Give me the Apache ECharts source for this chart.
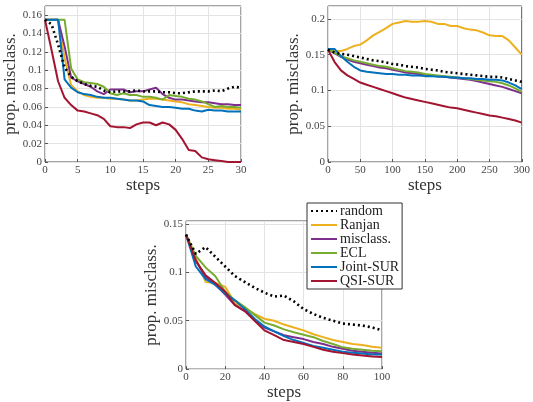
<!DOCTYPE html>
<html><head><meta charset="utf-8">
<script src="https://cdn.jsdelivr.net/npm/echarts@6/dist/echarts.min.js"></script>
<style>html,body{margin:0;padding:0;background:#fff}#c{width:533px;height:402px}</style>
</head><body><div id="c"></div>
<script>
var names = ['random','Ranjan','misclass.','ECL','Joint-SUR','QSI-SUR'];
var colors = ['#000000','#EDB120','#7E2F8E','#77AC30','#0072BD','#A2142F'];

// Panel 1 (steps 0..30)
var steps1 = [0,1,2,3,4,5,6,7,8,9,10,11,12,13,14,15,16,17,18,19,20,21,22,23,24,25,26,27,28,29,30];
var random1 = [0.155,0.150,0.128,0.103,0.093,0.088,0.085,0.083,0.082,0.078,0.076,0.077,0.077,0.077,0.078,0.077,0.077,0.077,0.076,0.076,0.075,0.075,0.076,0.077,0.077,0.077,0.078,0.077,0.080,0.082,0.081];
var ranjan1 = [0.155,0.155,0.155,0.113,0.084,0.077,0.073,0.071,0.070,0.070,0.069,0.069,0.068,0.067,0.067,0.068,0.069,0.069,0.068,0.067,0.066,0.065,0.063,0.062,0.061,0.060,0.059,0.059,0.058,0.058,0.057];
var misclass1 = [0.155,0.155,0.155,0.126,0.092,0.088,0.085,0.082,0.077,0.074,0.079,0.079,0.079,0.076,0.077,0.077,0.079,0.081,0.074,0.070,0.068,0.068,0.067,0.066,0.065,0.065,0.064,0.063,0.063,0.062,0.062];
var ecl1 = [0.155,0.155,0.155,0.155,0.102,0.090,0.087,0.086,0.085,0.082,0.075,0.073,0.075,0.073,0.073,0.071,0.071,0.070,0.068,0.073,0.072,0.071,0.069,0.068,0.066,0.063,0.060,0.061,0.060,0.060,0.059];
var joint1 = [0.155,0.155,0.155,0.090,0.081,0.076,0.074,0.073,0.071,0.070,0.070,0.069,0.068,0.067,0.067,0.066,0.062,0.061,0.060,0.060,0.059,0.058,0.058,0.056,0.055,0.057,0.056,0.056,0.055,0.055,0.055];
var qsi1 = [0.155,0.122,0.088,0.070,0.062,0.056,0.055,0.053,0.051,0.047,0.039,0.038,0.038,0.037,0.041,0.043,0.043,0.040,0.043,0.041,0.035,0.025,0.013,0.012,0.005,0.003,0.002,0.001,0.000,0.000,0.000];

// Panel 2 (steps 0..300)
var steps2 = [0,10,20,30,40,50,60,70,80,90,100,110,120,130,140,150,160,170,180,190,200,210,220,230,240,250,260,270,280,290,300];
var random2 = [0.157,0.153,0.151,0.150,0.148,0.146,0.144,0.142,0.141,0.139,0.137,0.136,0.134,0.133,0.132,0.130,0.129,0.128,0.126,0.125,0.124,0.123,0.122,0.121,0.120,0.119,0.119,0.118,0.116,0.114,0.112];
var ranjan2 = [0.157,0.155,0.155,0.158,0.162,0.164,0.170,0.177,0.182,0.187,0.193,0.195,0.197,0.196,0.196,0.197,0.196,0.193,0.193,0.190,0.190,0.187,0.185,0.184,0.181,0.177,0.176,0.176,0.170,0.160,0.150];
var misclass2 = [0.157,0.152,0.147,0.143,0.140,0.138,0.136,0.134,0.132,0.131,0.129,0.127,0.125,0.124,0.123,0.122,0.121,0.120,0.119,0.118,0.117,0.116,0.115,0.113,0.111,0.109,0.107,0.105,0.102,0.099,0.096];
var ecl2 = [0.157,0.153,0.148,0.145,0.142,0.140,0.138,0.136,0.134,0.133,0.131,0.129,0.127,0.126,0.125,0.123,0.122,0.121,0.120,0.119,0.118,0.117,0.116,0.115,0.114,0.113,0.112,0.110,0.107,0.103,0.098];
var joint2 = [0.158,0.158,0.148,0.140,0.133,0.128,0.126,0.125,0.124,0.123,0.123,0.122,0.122,0.121,0.121,0.120,0.120,0.119,0.119,0.118,0.118,0.117,0.117,0.116,0.116,0.115,0.115,0.114,0.111,0.107,0.102];
var qsi2 = [0.157,0.140,0.128,0.121,0.116,0.111,0.108,0.105,0.102,0.099,0.096,0.093,0.090,0.088,0.086,0.084,0.082,0.080,0.078,0.076,0.075,0.073,0.071,0.069,0.067,0.065,0.064,0.062,0.060,0.058,0.055];

// Panel 3 (steps 0..100)
var steps3 = [0,5,10,15,20,25,30,35,40,45,50,55,60,65,70,75,80,85,90,95,100];
var random3 = [0.139,0.119,0.126,0.116,0.106,0.096,0.090,0.084,0.079,0.075,0.076,0.070,0.062,0.057,0.053,0.050,0.047,0.046,0.045,0.043,0.040];
var ranjan3 = [0.139,0.115,0.090,0.089,0.085,0.068,0.063,0.057,0.052,0.050,0.046,0.043,0.040,0.036,0.033,0.030,0.028,0.026,0.025,0.023,0.022];
var misclass3 = [0.139,0.112,0.095,0.087,0.077,0.066,0.060,0.051,0.043,0.039,0.035,0.033,0.031,0.028,0.026,0.023,0.021,0.019,0.018,0.017,0.016];
var ecl3 = [0.139,0.117,0.105,0.096,0.080,0.071,0.064,0.056,0.048,0.045,0.041,0.038,0.0355,0.033,0.029,0.026,0.0225,0.021,0.020,0.019,0.0185];
var joint3 = [0.139,0.106,0.093,0.087,0.078,0.071,0.062,0.052,0.044,0.039,0.034,0.030,0.027,0.024,0.022,0.020,0.018,0.017,0.016,0.015,0.015];
var qsi3 = [0.139,0.112,0.097,0.089,0.080,0.066,0.060,0.050,0.040,0.035,0.030,0.028,0.026,0.023,0.020,0.018,0.0165,0.015,0.014,0.013,0.0125];

var panels = [
  {steps: steps1, data: [random1, ranjan1, misclass1, ecl1, joint1, qsi1], xmax: 30, xint: 5, ymax: 0.17, yint: 0.02},
  {steps: steps2, data: [random2, ranjan2, misclass2, ecl2, joint2, qsi2], xmax: 300, xint: 50, ymax: 0.218, yint: 0.05},
  {steps: steps3, data: [random3, ranjan3, misclass3, ecl3, joint3, qsi3], xmax: 100, xint: 20, ymax: 0.153, yint: 0.05}
];
var grids = [
  {left: 45, top: 6, width: 196, height: 156},
  {left: 328, top: 6, width: 196, height: 156},
  {left: 186, top: 221, width: 196, height: 155}
];
var FONT = 'Liberation Serif';
var xAxes = [], yAxes = [], series = [];
panels.forEach(function (p, i) {
  grids[i].show = true; grids[i].borderColor = '#4a4a4a'; grids[i].borderWidth = 1; grids[i].containLabel = false;
  xAxes.push({
    type: 'value', gridIndex: i, min: 0, max: p.xmax, interval: p.xint,
    name: 'steps', nameLocation: 'middle', nameGap: 8,
    nameTextStyle: {fontFamily: FONT, fontSize: 17, color: '#333'},
    axisLine: {show: false}, axisTick: {show: true, inside: true, length: 3, lineStyle: {color: '#555'}},
    axisLabel: {fontFamily: FONT, fontSize: 11, color: '#444', margin: 3},
    splitLine: {show: true, lineStyle: {color: '#e3e3e3', width: 1}}
  });
  yAxes.push({
    type: 'value', gridIndex: i, min: 0, max: p.ymax, interval: p.yint,
    name: 'prop. misclass.', nameLocation: 'middle', nameGap: 22, nameRotate: 90,
    nameTextStyle: {fontFamily: FONT, fontSize: 17, color: '#333'},
    axisLine: {show: false}, axisTick: {show: true, inside: true, length: 3, lineStyle: {color: '#555'}},
    axisLabel: {fontFamily: FONT, fontSize: 11, color: '#444', margin: 3, showMaxLabel: false,
      formatter: function (v) { return String(+v.toFixed(3)); }},
    splitLine: {show: true, lineStyle: {color: '#e3e3e3', width: 1}}
  });
  p.data.forEach(function (arr, k) {
    series.push({
      name: names[k], type: 'line', xAxisIndex: i, yAxisIndex: i,
      data: p.steps.map(function (s, j) { return [s, arr[j]]; }),
      showSymbol: false, symbol: 'none', silent: true, animation: false,
      z: k === 0 ? 3 : 2,
      lineStyle: {color: colors[k], width: k === 0 ? 2.6 : 2, type: k === 0 ? [2, 3] : 'solid'},
      itemStyle: {color: colors[k]}
    });
  });
});
var chart = echarts.init(document.getElementById('c'), null, {renderer: 'canvas'});
chart.setOption({
  animation: false,
  grid: grids, xAxis: xAxes, yAxis: yAxes, series: series,
  legend: {
    data: names, orient: 'vertical', left: 307, top: 203, width: 95,
    itemWidth: 26, itemHeight: 8, itemGap: 0, padding: [1, 3, 1, 3],
    backgroundColor: '#fff', borderColor: '#333', borderWidth: 1,
    itemStyle: {opacity: 0},
    textStyle: {fontFamily: FONT, fontSize: 14, color: '#222', lineHeight: 10.5, padding: [0, 0, 0, -2]},
    selectedMode: false
  }
});
</script></body></html>
